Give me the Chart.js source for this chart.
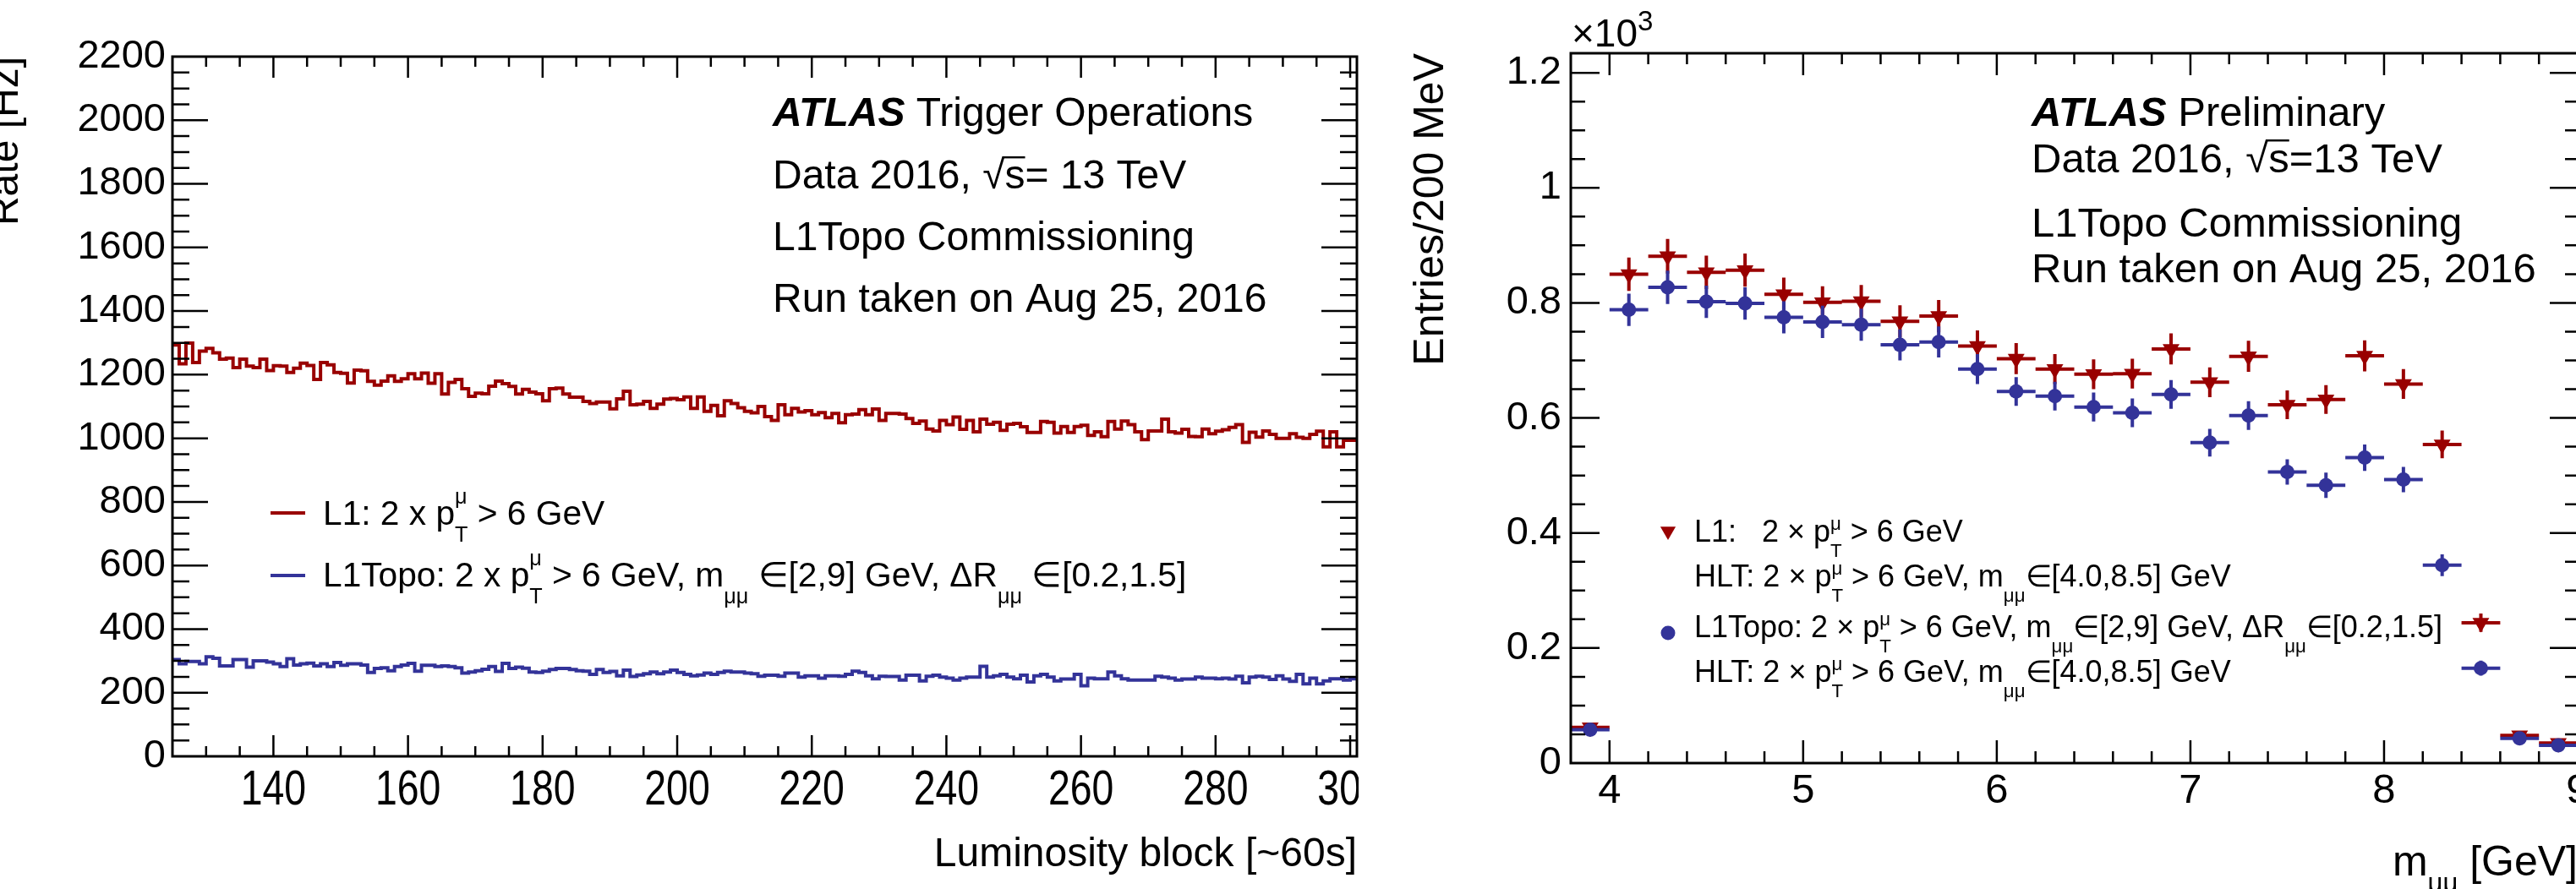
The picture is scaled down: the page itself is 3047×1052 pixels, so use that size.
<!DOCTYPE html>
<html><head><meta charset="utf-8">
<script src="https://cdn.jsdelivr.net/npm/chart.js@4/dist/chart.umd.min.js"></script>
<style>
html,body{margin:0;padding:0;background:#fff;overflow:hidden;width:3047px;height:1052px;position:relative;}
#w1{position:absolute;left:0;top:0;width:1607px;height:1052px;}
#w2{position:absolute;left:1610px;top:0;width:1490px;height:1052px;}
canvas{display:block;}
</style></head><body>
<div id="w1"><canvas id="c1" width="1607" height="1052"></canvas></div>
<div id="w2"><canvas id="c2" width="1490" height="1052"></canvas></div>
<script>
// ---------------- DATA ----------------
// Left panel: rate per luminosity block (bins of width 1, first bin starts at 125)
const lumiBlockStart = 125;
const lumiBlockWidth = 1;
const lumiRange = [125, 301];
const rateL1 = [
 1293,1234,1299,1238,1274,1283,1269,1249,1252,1222,
 1249,1227,1222,1249,1213,1228,1227,1207,1220,1236,
 1229,1185,1238,1231,1207,1204,1174,1214,1212,1179,
 1167,1180,1196,1179,1187,1203,1187,1205,1173,1203,
 1139,1176,1185,1156,1132,1142,1140,1164,1180,1172,
 1163,1139,1154,1145,1140,1118,1156,1158,1139,1129,
 1129,1116,1109,1114,1114,1093,1124,1148,1105,1107,
 1116,1094,1107,1123,1125,1121,1130,1094,1130,1085,
 1103,1071,1118,1109,1096,1085,1080,1100,
 1068,1056,1105,1074,1094,1083,1087,1074,1081,1065,1078,1049,
 1074,1076,1090,1074,1092,1056,1078,1078,1076,1062,
 1047,1054,1029,1023,1056,1043,1067,1028,1056,1020,
 1060,1044,1050,1025,1044,1047,1036,1018,1018,1053,
 1050,1016,1037,1018,1037,1041,1009,1020,1005,1053,
 1029,1054,1043,1020,996,1023,1023,1060,1020,1016,
 1028,1006,1005,1029,1014,1022,1027,1034,1043,987,
 1019,1004,1023,1012,1000,1000,1014,1003,1000,1012,
 1022,973,1020,973,994,994
];
const rateL1Topo = [
 304,291,298,298,291,313,308,284,284,304,
 304,280,300,300,296,291,282,307,287,291,
 293,284,291,282,295,286,291,291,287,264,
 276,278,269,282,287,292,268,286,286,282,
 284,282,278,262,265,269,274,282,267,292,
 276,280,277,265,264,268,273,276,276,273,
 269,268,258,273,264,267,253,271,251,256,
 260,265,260,265,271,264,258,253,256,262,
 258,264,268,265,265,262,260,252,
 255,255,252,262,262,249,253,253,246,253,253,252,
 258,268,264,253,244,252,251,251,240,255,
 255,237,252,255,249,246,240,246,249,249,
 283,249,253,258,249,244,255,234,253,258,
 249,237,243,243,258,222,246,244,244,265,
 253,244,240,240,240,240,252,249,246,240,
 243,243,249,246,246,244,246,243,252,231,
 249,252,249,242,253,243,236,258,228,246,
 228,237,244,244,240,244
];
const lumiTickValues = [140,160,180,200,220,240,260,280,300];
const lumiTickLabels = ['140','160','180','200','220','240','260','280','300'];
const rateRange = [0, 2200];
const rateTickValues = [0,200,400,600,800,1000,1200,1400,1600,1800,2000,2200];
const rateTickLabels = ['0','200','400','600','800','1000','1200','1400','1600','1800','2000','2200'];

// Right panel: entries per 200 MeV (x10^3) vs dimuon mass
const massBinCenters = [3.9,4.1,4.3,4.5,4.7,4.9,5.1,5.3,5.5,5.7,5.9,6.1,6.3,6.5,6.7,6.9,7.1,7.3,7.5,7.7,7.9,8.1,8.3,8.5,8.7,8.9];
const massHalfWidth = 0.1;
const entriesL1 = [0.062,0.850,0.881,0.853,0.857,0.815,0.801,0.803,0.768,0.777,0.725,0.703,0.685,0.676,0.677,0.720,0.662,0.707,0.623,0.632,0.708,0.659,0.554,0.244,0.048,0.035];
const errorsL1 = [0.008,0.029,0.030,0.029,0.029,0.029,0.028,0.028,0.028,0.028,0.027,0.027,0.026,0.026,0.026,0.027,0.026,0.027,0.025,0.025,0.027,0.026,0.024,0.016,0.007,0.006];
const entriesL1Topo = [0.058,0.788,0.827,0.802,0.799,0.775,0.767,0.762,0.727,0.732,0.685,0.646,0.638,0.619,0.609,0.641,0.557,0.604,0.506,0.483,0.531,0.493,0.344,0.165,0.043,0.031];
const errorsL1Topo = [0.008,0.028,0.029,0.028,0.028,0.028,0.028,0.028,0.027,0.027,0.026,0.025,0.025,0.025,0.025,0.025,0.024,0.025,0.022,0.022,0.023,0.022,0.019,0.013,0.007,0.006];
const massRange = [3.8, 9.0];
const massTickValues = [4,5,6,7,8,9];
const massTickLabels = ['4','5','6','7','8','9'];
const entriesRange = [0, 1.234];
const entriesTickValues = [0,0.2,0.4,0.6,0.8,1.0,1.2];
const entriesTickLabels = ['0','0.2','0.4','0.6','0.8','1','1.2'];

// ---------------- STYLE / HELPERS ----------------
const RED = '#990000', BLUE = '#333399';
const FONT = '"Liberation Sans", Helvetica, Arial, sans-serif';
Chart.defaults.font.family = FONT;
Chart.defaults.color = '#000';

function setFont(ctx, size, style){ ctx.font = (style ? style + ' ' : '') + size + 'px ' + FONT; }
function richText(ctx, segs, x, y, size, cfg, draw){
  cfg = cfg || {}; if (draw === undefined) draw = true;
  const sc = cfg.scale || 0.62, subOff = cfg.sub != null ? cfg.sub : 0.45, supOff = cfg.sup != null ? cfg.sup : 0.55;
  let cx = x;
  ctx.textAlign = 'left'; ctx.textBaseline = 'alphabetic';
  for (const s of segs){
    if (typeof s === 'string'){
      setFont(ctx, size); if (draw) ctx.fillText(s, cx, y); cx += ctx.measureText(s).width;
    } else if (s.bi){
      setFont(ctx, size, 'italic bold'); if (draw) ctx.fillText(s.bi, cx, y); cx += ctx.measureText(s.bi).width;
    } else if (s.sqrt){
      setFont(ctx, size);
      const m = ctx.measureText('\u221A');
      if (draw) ctx.fillText('\u221A', cx, y);
      const x0 = cx + m.width * 0.9;
      cx += m.width;
      const w = ctx.measureText(s.sqrt).width;
      if (draw){
        ctx.fillText(s.sqrt, cx, y);
        const lw = Math.max(2, size * 0.05);
        const top = y - m.actualBoundingBoxAscent + lw / 2;
        ctx.save(); ctx.strokeStyle = ctx.fillStyle; ctx.lineWidth = lw;
        ctx.beginPath(); ctx.moveTo(x0, top); ctx.lineTo(cx + w, top); ctx.stroke(); ctx.restore();
      }
      cx += w;
    } else {
      setFont(ctx, size * sc);
      let w = 0;
      if (s.sub){ if (draw) ctx.fillText(s.sub, cx, y + size * subOff); w = Math.max(w, ctx.measureText(s.sub).width); }
      if (s.sup){ if (draw) ctx.fillText(s.sup, cx, y - size * supOff); w = Math.max(w, ctx.measureText(s.sup).width); }
      cx += w;
    }
  }
  return cx - x;
}
function stepList(a, b, step){ const out = []; for (let i = 0; a + i * step <= b + 1e-9; i++) out.push(+(a + i * step).toFixed(6)); return out; }

// frame + inward ticks on all four sides (ROOT style)
const frameTicks = {
  id: 'frameTicks',
  afterDatasetsDraw(chart, args, o){
    const {ctx, chartArea: a, scales: {x, y}} = chart;
    ctx.save();
    ctx.strokeStyle = '#000';
    ctx.lineWidth = o.tickWidth;
    ctx.beginPath();
    const isMajX = v => o.xMajor.some(m => Math.abs(m - v) < 1e-6);
    const isMajY = v => o.yMajor.some(m => Math.abs(m - v) < 1e-6);
    for (const v of o.xAll){
      const p = x.getPixelForValue(v);
      if (p < a.left + 1 || p > a.right - 1) continue;
      const maj = isMajX(v);
      const lb = maj ? o.xMajLen : o.xMinLen, lt = maj ? o.xTopMajLen : o.xTopMinLen;
      ctx.moveTo(p, a.bottom); ctx.lineTo(p, a.bottom - lb);
      ctx.moveTo(p, a.top); ctx.lineTo(p, a.top + lt);
    }
    for (const v of o.yAll){
      const p = y.getPixelForValue(v);
      if (p < a.top + 1 || p > a.bottom - 1) continue;
      const maj = isMajY(v);
      const ll = maj ? o.yMajLen : o.yMinLen, lr = maj ? o.yRMajLen : o.yRMinLen;
      ctx.moveTo(a.left, p); ctx.lineTo(a.left + ll, p);
      ctx.moveTo(a.right, p); ctx.lineTo(a.right - lr, p);
    }
    ctx.stroke();
    ctx.lineWidth = o.frameWidth;
    ctx.strokeRect(a.left, a.top, a.right - a.left, a.bottom - a.top);
    ctx.restore();
  }
};

// ---------------- LEFT CHART ----------------
function histPoints(values){
  const pts = values.map((v, i) => ({x: lumiBlockStart + i * lumiBlockWidth, y: v}));
  pts.push({x: lumiBlockStart + values.length * lumiBlockWidth, y: values[values.length - 1]});
  return pts;
}

// x tick labels of the left panel use a tall, condensed face: draw them at the scale's tick pixels
const narrowXLabels = {
  id: 'narrowXLabels',
  afterDraw(chart){
    const {ctx, scales: {x}} = chart;
    ctx.save();
    ctx.fillStyle = '#000'; ctx.textAlign = 'center'; ctx.textBaseline = 'alphabetic';
    ctx.font = '58px ' + FONT;
    for (const t of x.ticks){
      const idx = lumiTickValues.indexOf(t.value);
      if (idx < 0) continue;
      const px = x.getPixelForValue(t.value);
      ctx.save(); ctx.translate(px, 952); ctx.scale(0.8, 1); ctx.fillText(lumiTickLabels[idx], 0, 0); ctx.restore();
    }
    ctx.restore();
  }
};

const leftText = {
  id: 'leftText',
  afterDraw(chart){
    const ctx = chart.ctx;
    ctx.save(); ctx.fillStyle = '#000';
    const s = 48, tx = 914;
    richText(ctx, [{bi: 'ATLAS'}, ' Trigger Operations'], tx, 149, s);
    richText(ctx, ['Data 2016, ', {sqrt: 's'}, '= 13 TeV'], tx, 223, s);
    richText(ctx, ['L1Topo Commissioning'], tx, 296, s);
    richText(ctx, ['Run taken on Aug 25, 2016'], tx, 369, s);
    // legend
    const ls = 40.7, cfg = {scale: 0.62, sub: 0.5, sup: 0.62};
    ctx.lineWidth = 4;
    ctx.strokeStyle = RED; ctx.beginPath(); ctx.moveTo(320, 607); ctx.lineTo(361, 607); ctx.stroke();
    ctx.strokeStyle = BLUE; ctx.beginPath(); ctx.moveTo(320, 681); ctx.lineTo(361, 681); ctx.stroke();
    richText(ctx, ['L1: 2 x p', {sub: 'T', sup: '\u03BC'}, ' > 6 GeV'], 382, 621, ls, cfg);
    richText(ctx, ['L1Topo: 2 x p', {sub: 'T', sup: '\u03BC'}, ' > 6 GeV, m', {sub: '\u03BC\u03BC'}, ' \u2208[2,9] GeV, \u0394R', {sub: '\u03BC\u03BC'}, ' \u2208[0.2,1.5]'], 382, 694, ls, cfg);
    ctx.restore();
  }
};

new Chart(document.getElementById('c1'), {
  type: 'line',
  data: {
    datasets: [
      {label: 'L1: 2 x pT > 6 GeV', data: histPoints(rateL1), borderColor: RED, borderWidth: 4, stepped: 'before', pointRadius: 0, fill: false},
      {label: 'L1Topo: 2 x pT > 6 GeV, mμμ ∈[2,9] GeV, ΔRμμ ∈[0.2,1.5]', data: histPoints(rateL1Topo), borderColor: BLUE, borderWidth: 4, stepped: 'before', pointRadius: 0, fill: false}
    ]
  },
  options: {
    responsive: false, animation: false, events: [],
    layout: {padding: {top: 67, right: 2, left: 0, bottom: 0}},
    plugins: {
      legend: {display: false}, tooltip: {enabled: false},
      frameTicks: {
        tickWidth: 2.5, frameWidth: 3,
        xMajor: lumiTickValues, xAll: stepList(125, 301, 5),
        yMajor: rateTickValues, yAll: stepList(0, 2200, 50),
        xMajLen: 25, xMinLen: 12, xTopMajLen: 25, xTopMinLen: 12,
        yMajLen: 42, yMinLen: 20, yRMajLen: 42, yRMinLen: 20
      }
    },
    scales: {
      x: {
        type: 'linear', min: lumiRange[0], max: lumiRange[1],
        grid: {display: false, drawTicks: false}, border: {display: false},
        afterBuildTicks: s => { s.ticks = lumiTickValues.map(v => ({value: v})); },
        afterFit: s => { s.height = 157; s.paddingLeft = 0; s.paddingRight = 0; },
        ticks: {display: false, autoSkip: false, maxRotation: 0},
        title: {display: true, text: 'Luminosity block [~60s]', align: 'end', font: {size: 48, lineHeight: 1.2}, padding: {top: 0, bottom: 11}}
      },
      y: {
        min: rateRange[0], max: rateRange[1],
        grid: {display: false, drawTicks: false}, border: {display: false},
        afterBuildTicks: s => { s.ticks = rateTickValues.map(v => ({value: v})); },
        afterFit: s => { s.width = 204; },
        ticks: {autoSkip: false, padding: 8, font: {size: 47},
          callback: v => rateTickLabels[rateTickValues.indexOf(v)]},
        title: {display: true, text: 'Rate [Hz]', align: 'end', font: {size: 48, lineHeight: 0.34}, padding: {top: 0, bottom: 0}}
      }
    }
  },
  plugins: [frameTicks, narrowXLabels, leftText]
});

// ---------------- RIGHT CHART ----------------
function errPoints(vals, errs){
  return massBinCenters.map((m, i) => ({x: m, y: vals[i], xErr: massHalfWidth, yErr: errs[i]}));
}
const errorBars = {
  id: 'errorBars',
  beforeDatasetDraw(chart, args){
    const {ctx, chartArea: a, scales: {x, y}} = chart;
    const ds = chart.data.datasets[args.index];
    ctx.save();
    ctx.beginPath(); ctx.rect(a.left, a.top, a.right - a.left, a.bottom - a.top); ctx.clip();
    ctx.strokeStyle = ds.borderColor; ctx.lineWidth = 4;
    ctx.beginPath();
    for (const p of ds.data){
      const px = x.getPixelForValue(p.x), py = y.getPixelForValue(p.y);
      ctx.moveTo(x.getPixelForValue(p.x - p.xErr), py); ctx.lineTo(x.getPixelForValue(p.x + p.xErr), py);
      ctx.moveTo(px, y.getPixelForValue(p.y + p.yErr)); ctx.lineTo(px, y.getPixelForValue(p.y - p.yErr));
    }
    ctx.stroke();
    ctx.restore();
  }
};
const rightText = {
  id: 'rightText',
  afterDraw(chart){
    const ctx = chart.ctx, a = chart.chartArea;
    ctx.save(); ctx.fillStyle = '#000';
    const s = 49, tx = 793;
    richText(ctx, [{bi: 'ATLAS'}, ' Preliminary'], tx, 149, s);
    richText(ctx, ['Data 2016, ', {sqrt: 's'}, '=13 TeV'], tx, 204, s);
    richText(ctx, ['L1Topo Commissioning'], tx, 280, s);
    richText(ctx, ['Run taken on Aug 25, 2016'], tx, 334, s);
    // x10^3
    richText(ctx, ['\u00D710', {sup: '3'}], 249, 55, 46, {scale: 0.72, sup: 0.42});
    // x-axis title (right aligned at the frame edge)
    const tsegs = ['m', {sub: '\u03BC\u03BC'}, ' [GeV]'];
    const tcfg = {scale: 0.62, sub: 0.38};
    const w = richText(ctx, tsegs, 0, 0, 50, tcfg, false);
    richText(ctx, tsegs, a.right - w, 1036, 50, tcfg);
    // legend
    const ls = 36, cfg = {scale: 0.62, sub: 0.5, sup: 0.4};
    ctx.fillStyle = RED;
    const r = 10.5, mx = 363, my = 631;
    ctx.beginPath(); ctx.moveTo(mx, my + r * 0.75); ctx.lineTo(mx - 0.866 * r, my - 0.75 * r); ctx.lineTo(mx + 0.866 * r, my - 0.75 * r); ctx.closePath(); ctx.fill();
    ctx.fillStyle = BLUE;
    ctx.beginPath(); ctx.arc(363, 749, 8.5, 0, Math.PI * 2); ctx.fill();
    ctx.fillStyle = '#000';
    richText(ctx, ['L1:   2 \u00D7 p', {sub: 'T', sup: '\u03BC'}, ' > 6 GeV'], 394, 641, ls, cfg);
    richText(ctx, ['HLT: 2 \u00D7 p', {sub: 'T', sup: '\u03BC'}, ' > 6 GeV, m', {sub: '\u03BC\u03BC'}, '\u2208[4.0,8.5] GeV'], 394, 694, ls, cfg);
    richText(ctx, ['L1Topo: 2 \u00D7 p', {sub: 'T', sup: '\u03BC'}, ' > 6 GeV, m', {sub: '\u03BC\u03BC'}, '\u2208[2,9] GeV, \u0394R', {sub: '\u03BC\u03BC'}, '\u2208[0.2,1.5]'], 394, 754, ls, cfg);
    richText(ctx, ['HLT: 2 \u00D7 p', {sub: 'T', sup: '\u03BC'}, ' > 6 GeV, m', {sub: '\u03BC\u03BC'}, '\u2208[4.0,8.5] GeV'], 394, 807, ls, cfg);
    ctx.restore();
  }
};

new Chart(document.getElementById('c2'), {
  type: 'scatter',
  data: {
    datasets: [
      {label: 'L1Topo + HLT', data: errPoints(entriesL1Topo, errorsL1Topo), borderColor: BLUE, backgroundColor: BLUE,
       pointStyle: 'circle', pointRadius: 8.5, pointBorderWidth: 0, pointBackgroundColor: BLUE},
      {label: 'L1 + HLT', data: errPoints(entriesL1, errorsL1), borderColor: RED, backgroundColor: RED,
       pointStyle: 'triangle', pointRotation: 180, pointRadius: 11.5, pointBorderWidth: 0, pointBackgroundColor: RED}
    ]
  },
  options: {
    responsive: false, animation: false, events: [],
    layout: {padding: {top: 63, right: 51, left: 0, bottom: 0}},
    plugins: {
      legend: {display: false}, tooltip: {enabled: false},
      frameTicks: {
        tickWidth: 2.5, frameWidth: 3,
        xMajor: massTickValues, xAll: stepList(3.8, 9.0, 0.2),
        yMajor: entriesTickValues, yAll: stepList(0, 1.2, 0.05),
        xMajLen: 27, xMinLen: 14, xTopMajLen: 26, xTopMinLen: 13,
        yMajLen: 34, yMinLen: 17, yRMajLen: 33, yRMinLen: 15
      }
    },
    scales: {
      x: {
        type: 'linear', min: massRange[0], max: massRange[1],
        grid: {display: false, drawTicks: false}, border: {display: false},
        afterBuildTicks: s => { s.ticks = massTickValues.map(v => ({value: v})); },
        afterFit: s => { s.height = 149; s.paddingLeft = 0; s.paddingRight = 0; },
        ticks: {autoSkip: false, maxRotation: 0, padding: 4, font: {size: 49},
          callback: v => massTickLabels[massTickValues.indexOf(v)]}
      },
      y: {
        min: entriesRange[0], max: entriesRange[1],
        grid: {display: false, drawTicks: false}, border: {display: false},
        afterBuildTicks: s => { s.ticks = entriesTickValues.map(v => ({value: v})); },
        afterFit: s => { s.width = 248; },
        ticks: {autoSkip: false, padding: 11, font: {size: 47},
          callback: v => entriesTickLabels[entriesTickValues.findIndex(t => Math.abs(t - v) < 1e-9)]},
        title: {display: true, text: 'Entries/200 MeV', align: 'end', font: {size: 50, lineHeight: 1.2}, padding: {top: 53, bottom: 0}}
      }
    }
  },
  plugins: [errorBars, frameTicks, rightText]
});
</script>
</body></html>
